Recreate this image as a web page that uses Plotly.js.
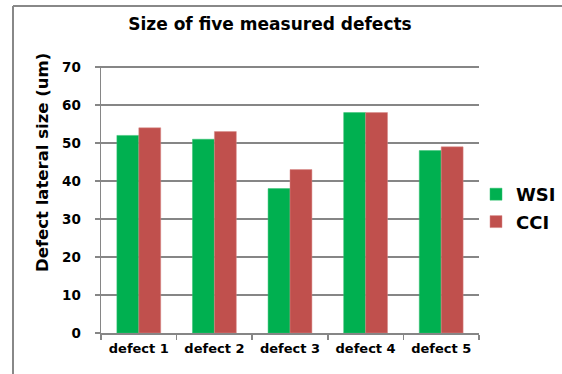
<!DOCTYPE html>
<html><head><meta charset="utf-8">
<script src="https://cdn.plot.ly/plotly-3.0.1.min.js"></script>
<style>html,body{margin:0;padding:0;background:#fff;overflow:hidden}#chart{width:562px;height:374px}</style>
</head><body><div id="chart"></div>
<script>
const categories = ["defect 1", "defect 2", "defect 3", "defect 4", "defect 5"];
const wsiValues = [52, 51, 38, 58, 48];
const cciValues = [54, 53, 43, 58, 49];
const yTicks = [0, 10, 20, 30, 40, 50, 60, 70];

const F = "DejaVu Sans, Liberation Sans, Arial, sans-serif";
const traces = [
  {type: "bar", name: "WSI", x: categories, y: wsiValues, legendgroup: "a",
   marker: {color: "#00B050", line: {color: "#33c070", width: 0.5}}},
  {type: "bar", name: "CCI", x: categories, y: cciValues, legendgroup: "b",
   marker: {color: "#C0504D", line: {color: "#d98a88", width: 0.5}}}
];
const L = 101, R = 479, T = 66, B = 333;
const px = v => (v - L) / (R - L);
const py = v => (B - v) / (B - T);
const layout = {
  width: 562, height: 374,
  margin: {l: L, r: 562 - R, t: T, b: 374 - B, pad: 0, autoexpand: false},
  paper_bgcolor: "#fff", plot_bgcolor: "#fff",
  barmode: "group", bargap: 0.42, bargroupgap: 0,
  showlegend: true,
  title: {text: "Size of five measured defects", x: 270/562, xanchor: "center", y: 1 - 24/374, yanchor: "middle",
          font: {family: F, size: 17, weight: "bold", color: "#000"}},
  xaxis: {type: "category", showline: true, linecolor: "#868686", linewidth: 1.5,
          ticks: "outside", ticklen: 5, tickcolor: "#868686", tickwidth: 1.5, tickson: "boundaries",
          ticklabelstandoff: 3,
          showgrid: false, tickfont: {family: F, size: 13, weight: "bold", color: "#000"}},
  yaxis: {range: [0, 70.27], tickvals: yTicks, showline: true, linecolor: "#868686", linewidth: 1.5,
          ticks: "outside", ticklen: 5, tickcolor: "#868686", tickwidth: 1.5, ticklabelstandoff: 11,
          showgrid: true, gridcolor: "#868686", gridwidth: 1.5, zeroline: false,
          tickfont: {family: F, size: 13.5, weight: "bold", color: "#000"}},
  annotations: [
    {text: "Defect lateral size (um)", xref: "paper", yref: "paper", x: px(42), y: py(163),
     xanchor: "center", yanchor: "middle", textangle: -90, showarrow: false,
     font: {family: F, size: 16.5, weight: "bold", color: "#000"}}
  ],
  legend: {x: px(476), xanchor: "left", y: py(176), yanchor: "top", traceorder: "grouped", tracegroupgap: 1,
           font: {family: F, size: 18, weight: "bold", color: "#000"}, bgcolor: "rgba(0,0,0,0)"},
  shapes: [
    {type: "line", xref: "paper", yref: "paper", x0: px(13), x1: px(562), y0: py(6), y1: py(6), line: {color: "#888", width: 2}},
    {type: "line", xref: "paper", yref: "paper", x0: px(13), x1: px(13), y0: py(6), y1: py(374), line: {color: "#888", width: 2}}
  ]
};
Plotly.newPlot("chart", traces, layout, {displayModeBar: false, staticPlot: true});
</script></body></html>
